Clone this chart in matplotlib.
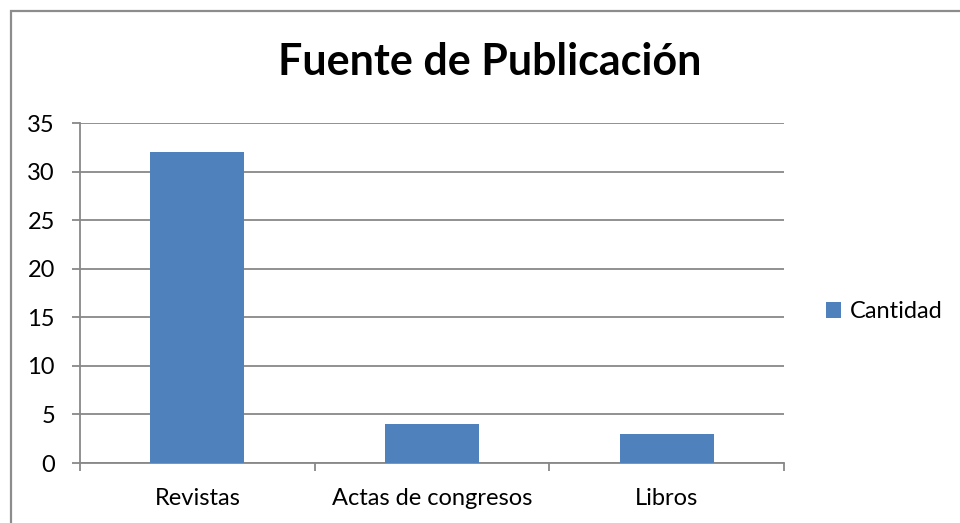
import matplotlib
matplotlib.use('Agg')
import matplotlib.pyplot as plt
from matplotlib.patches import Rectangle, Patch
from matplotlib.ticker import FixedLocator

# Data
categories = ['Revistas', 'Actas de congresos', 'Libros']
cantidad = [32, 4, 3]
y_ticks = [0, 5, 10, 15, 20, 25, 30, 35]

plt.rcParams['font.family'] = ['Lato', 'DejaVu Sans']

fig = plt.figure(figsize=(9.6, 5.23), dpi=100)
fig.patch.set_facecolor('white')

# outer chart border (right/bottom fall outside the picture)
fig.patches.append(Rectangle((10.5 / 960, -0.05), 1.2, 1 - 10.5 / 523 + 0.05,
                             transform=fig.transFigure, fill=False,
                             edgecolor='#8c8c8c', linewidth=1.6, zorder=0))

ax = fig.add_axes([80 / 960, 60 / 523, 704 / 960, 340 / 523])

x = list(range(len(categories)))
ax.bar(x, cantidad, width=0.4, color='#4f81bd', zorder=3)

ax.set_xlim(-0.5, len(categories) - 0.5)
ax.set_ylim(0, 35)
ax.set_yticks(y_ticks)
ax.yaxis.grid(True, color='#888888', linewidth=1.3, zorder=0)

ax.set_xticks(x)
ax.set_xticklabels(categories)
ax.xaxis.set_minor_locator(FixedLocator([i - 0.5 for i in range(len(categories) + 1)]))
ax.tick_params(axis='x', which='major', length=0, pad=18, labelsize=17)
ax.tick_params(axis='x', which='minor', length=6, width=1.3, color='#888888', direction='out')
ax.tick_params(axis='y', length=6, width=1.3, color='#888888', direction='out', pad=12, labelsize=17)

for s in ['top', 'right']:
    ax.spines[s].set_visible(False)
for s in ['left', 'bottom']:
    ax.spines[s].set_color('#888888')
    ax.spines[s].set_linewidth(1.3)

fig.text(490 / 960, 1 - 75 / 523, 'Fuente de Publicación', ha='center', va='baseline',
         fontsize=31, fontweight='bold')

fig.legend(handles=[Patch(facecolor='#4f81bd', label='Cantidad')],
           loc='center left', bbox_to_anchor=(826 / 960, 1 - 312 / 523),
           frameon=False, fontsize=17, handlelength=0.65, handleheight=0.65,
           handletextpad=0.35, borderpad=0, borderaxespad=0)

fig.savefig('out.png', dpi=100)
